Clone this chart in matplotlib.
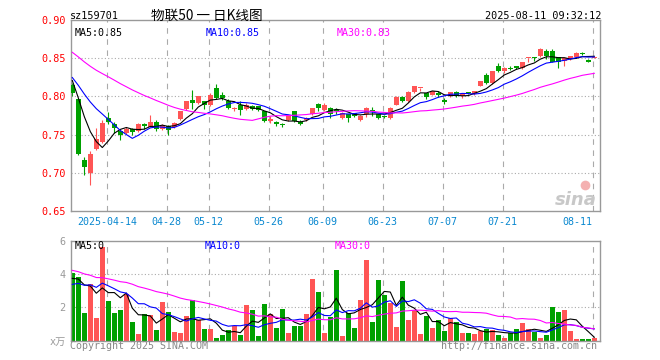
import numpy as np
import pandas as pd
import matplotlib
matplotlib.use("Agg")
import matplotlib.pyplot as plt

# 159701 daily K line, 2025-04-03 .. 2025-08-11 (88 trading days)
holidays = ["2025-04-04", "2025-05-01", "2025-05-02", "2025-05-05", "2025-06-02"]

opens = [0.8149, 0.7965, 0.7167, 0.6996, 0.7307, 0.7404, 0.7715, 0.7645, 0.7544, 0.7518,
         0.7575, 0.7548, 0.7640, 0.7605, 0.7671, 0.7579, 0.7614, 0.7596, 0.7702, 0.7833,
         0.7956, 0.7912, 0.7934, 0.7890, 0.8105, 0.8018, 0.7943, 0.7833, 0.7890, 0.7833,
         0.7877, 0.7868, 0.7803, 0.7675, 0.7671, 0.7632, 0.7693, 0.7803, 0.7671, 0.7689,
         0.7768, 0.7899, 0.7820, 0.7846, 0.7811, 0.7715, 0.7768, 0.7781, 0.7693, 0.7768,
         0.7811, 0.7768, 0.7737, 0.7715, 0.7890, 0.7996, 0.7934, 0.8053, 0.8105, 0.8039,
         0.8022, 0.8039, 0.7952, 0.8000, 0.8053, 0.8000, 0.8053, 0.8031, 0.8140, 0.8285,
         0.8175, 0.8395, 0.8329, 0.8373, 0.8395, 0.8368, 0.8500, 0.8509, 0.8535, 0.8592,
         0.8592, 0.8513, 0.8469, 0.8491, 0.8513, 0.8570, 0.8482, 0.8509]
highs = [0.8170, 0.7970, 0.7206, 0.7285, 0.7583, 0.7689, 0.7798, 0.7662, 0.7575, 0.7605,
         0.7592, 0.7654, 0.7658, 0.7759, 0.7689, 0.7636, 0.7627, 0.7667, 0.7811, 0.7943,
         0.8083, 0.8009, 0.7943, 0.8039, 0.8162, 0.8053, 0.7965, 0.7864, 0.7934, 0.7908,
         0.7886, 0.7877, 0.7811, 0.7737, 0.7680, 0.7658, 0.7754, 0.7811, 0.7689, 0.7728,
         0.7851, 0.7908, 0.7912, 0.7855, 0.7846, 0.7798, 0.7776, 0.7789, 0.7754, 0.7855,
         0.7855, 0.7776, 0.7754, 0.7855, 0.8000, 0.8000, 0.8070, 0.8140, 0.8114, 0.8048,
         0.8075, 0.8075, 0.7974, 0.8061, 0.8066, 0.8039, 0.8061, 0.8075, 0.8206, 0.8303,
         0.8338, 0.8434, 0.8382, 0.8395, 0.8404, 0.8456, 0.8509, 0.8513, 0.8632, 0.8623,
         0.8614, 0.8522, 0.8509, 0.8535, 0.8579, 0.8579, 0.8491, 0.8513]
lows = [0.8010, 0.7232, 0.6969, 0.6846, 0.7298, 0.7395, 0.7636, 0.7526, 0.7430, 0.7504,
        0.7496, 0.7540, 0.7579, 0.7601, 0.7548, 0.7561, 0.7496, 0.7588, 0.7693, 0.7825,
        0.7833, 0.7904, 0.7833, 0.7877, 0.7965, 0.7956, 0.7833, 0.7803, 0.7759, 0.7825,
        0.7825, 0.7811, 0.7667, 0.7658, 0.7614, 0.7605, 0.7684, 0.7667, 0.7627, 0.7675,
        0.7759, 0.7803, 0.7803, 0.7711, 0.7776, 0.7706, 0.7667, 0.7728, 0.7684, 0.7724,
        0.7746, 0.7706, 0.7711, 0.7706, 0.7881, 0.7925, 0.7925, 0.8044, 0.8075, 0.7965,
        0.8013, 0.7996, 0.7899, 0.7991, 0.7987, 0.7978, 0.8026, 0.8022, 0.8132, 0.8162,
        0.8162, 0.8316, 0.8303, 0.8351, 0.8364, 0.8360, 0.8447, 0.8469, 0.8513, 0.8491,
        0.8447, 0.8368, 0.8404, 0.8482, 0.8504, 0.8548, 0.8447, 0.8500]
closes = [0.8039, 0.7241, 0.7075, 0.7241, 0.7447, 0.7649, 0.7671, 0.7583, 0.7491, 0.7570,
          0.7540, 0.7645, 0.7610, 0.7671, 0.7570, 0.7623, 0.7561, 0.7658, 0.7803, 0.7934,
          0.7912, 0.8000, 0.7890, 0.8022, 0.7978, 0.7978, 0.7842, 0.7838, 0.7825, 0.7890,
          0.7833, 0.7825, 0.7680, 0.7702, 0.7636, 0.7623, 0.7746, 0.7680, 0.7645, 0.7715,
          0.7842, 0.7846, 0.7886, 0.7776, 0.7803, 0.7789, 0.7715, 0.7737, 0.7746, 0.7846,
          0.7803, 0.7715, 0.7732, 0.7846, 0.7996, 0.7934, 0.8061, 0.8132, 0.8110, 0.7987,
          0.8066, 0.8022, 0.7921, 0.8053, 0.8009, 0.8031, 0.8039, 0.8066, 0.8197, 0.8175,
          0.8329, 0.8329, 0.8373, 0.8364, 0.8373, 0.8447, 0.8504, 0.8500, 0.8614, 0.8526,
          0.8447, 0.8447, 0.8500, 0.8526, 0.8570, 0.8561, 0.8456, 0.8513]
volumes = [4.04, 3.80, 1.64, 3.40, 1.36, 5.64, 2.38, 1.66, 1.84, 2.78,
           1.10, 0.40, 1.60, 1.54, 0.64, 2.32, 1.72, 0.52, 0.46, 1.48,
           2.44, 1.24, 0.70, 0.70, 0.18, 0.34, 0.64, 0.90, 0.34, 2.14,
           1.84, 0.28, 2.20, 1.58, 0.76, 1.90, 0.46, 0.88, 0.88, 1.60,
           3.70, 2.92, 0.46, 1.44, 4.24, 0.28, 1.64, 0.76, 2.44, 4.84,
           1.12, 3.64, 2.74, 2.26, 0.84, 3.58, 1.24, 1.84, 0.40, 1.48,
           0.78, 1.24, 0.58, 1.36, 1.12, 0.46, 0.46, 0.40, 0.58, 0.70,
           0.64, 0.34, 0.16, 0.46, 0.70, 1.06, 0.70, 0.52, 0.16, 0.34,
           2.02, 1.72, 1.84, 0.58, 0.10, 0.10, 0.10, 0.16]

# earlier sessions (not drawn), only so the moving averages start where the chart shows them
prior_close = [0.905, 0.902, 0.898, 0.900, 0.896, 0.893, 0.890, 0.885, 0.880, 0.878,
               0.875, 0.870, 0.862, 0.858, 0.855, 0.852, 0.850, 0.848, 0.845, 0.842,
               0.826, 0.822, 0.828, 0.832, 0.835, 0.838, 0.830, 0.822, 0.810]
prior_vol = [6.2, 5.6, 5.9, 5.4, 5.9, 4.5, 4.0, 4.6, 4.1, 4.3,
             4.8, 4.2, 4.5, 4.0, 4.5, 4.2, 3.9, 4.1, 4.0, 4.1,
             3.2, 2.8, 3.1, 2.9, 3.1, 4.0, 3.39, 3.75, 3.52]

tick_dates = ["2025-04-14", "2025-04-28", "2025-05-12", "2025-05-26", "2025-06-09",
              "2025-06-23", "2025-07-07", "2025-07-21", "2025-08-11"]
tick_labels = ["2025-04-14", "04-28", "05-12", "05-26", "06-09", "06-23", "07-07", "07-21", "08-11"]

RED = "#ff5555"
GREEN = "#00a000"
GRID = "#aaaaaa"
MONO = ["DejaVu Sans Mono", "Noto Sans CJK SC"]

dates = pd.bdate_range("2025-04-03", "2025-08-11")
dates = dates[~dates.isin(pd.to_datetime(holidays))]
x = np.arange(len(dates))
tick_idx = [int(np.where(dates == pd.Timestamp(d))[0][0]) for d in tick_dates]

o = np.array(opens); h = np.array(highs); l = np.array(lows); c = np.array(closes)
v = np.array(volumes)
col = np.where(c >= o, RED, GREEN)


def ma(prior, vals, n):
    s = pd.Series(list(prior) + list(vals)).rolling(n).mean().to_numpy()
    return s[len(prior):]


W, H = 660, 360
fig = plt.figure(figsize=(6.6, 3.6), dpi=100)
fig.patch.set_facecolor("white")


def px(xp, yp):
    return xp / W, 1 - yp / H


ax = fig.add_axes([71 / W, 1 - 211 / H, 529 / W, 191 / H])
axv = fig.add_axes([71 / W, 1 - 340.7 / H, 529 / W, 100 / H])

for a in (ax, axv):
    a.set_xlim(-0.22, 87.95)
    for s in a.spines.values():
        s.set_color("#999999")
        s.set_linewidth(1.0)
    for t in tick_idx:
        a.axvline(t - 0.25, color=GRID, lw=0.8, ls=(0, (5, 5)), zorder=0)

# price panel
ax.set_ylim(0.65, 0.90)
for y in [0.70, 0.75, 0.80, 0.85]:
    ax.axhline(y, color=GRID, lw=0.8, ls=(0, (1, 2)), zorder=0)
ax.vlines(x, l, h, colors=col, lw=0.8, zorder=2)
ax.bar(x, np.maximum(np.abs(c - o), 0.0013), bottom=np.minimum(o, c), width=0.8,
       color=col, linewidth=0, zorder=3)
ax.plot(x, ma(prior_close, c, 5), color="black", lw=0.8, zorder=4)
ax.plot(x, ma(prior_close, c, 10), color="#0000ff", lw=0.8, zorder=4)
ax.plot(x, ma(prior_close, c, 30), color="#ff00ff", lw=0.8, zorder=4)

ax.set_yticks([0.65, 0.70, 0.75, 0.80, 0.85, 0.90])
ax.set_yticklabels(["0.65", "0.70", "0.75", "0.80", "0.85", "0.90"],
                   color="#ff0000", family=MONO, fontsize=7.3)
ax.set_xticks([t - 0.25 for t in tick_idx])
ax.set_xticklabels(tick_labels, color="#0a88d0", family=MONO, fontsize=7.2)
ax.tick_params(length=0, pad=4)
ax.get_xticklabels()[-1].set_horizontalalignment("right")

# volume panel
axv.set_ylim(0, 6)
for y in [2, 4]:
    axv.axhline(y, color=GRID, lw=0.8, ls=(0, (1, 2)), zorder=0)
axv.bar(x, v, width=0.8, color=col, linewidth=0, zorder=2)
axv.plot(x, ma(prior_vol, v, 5), color="black", lw=0.8, zorder=3)
axv.plot(x, ma(prior_vol, v, 10), color="#0000ff", lw=0.8, zorder=3)
axv.plot(x, ma(prior_vol, v, 30), color="#ff00ff", lw=0.8, zorder=3)
axv.set_yticks([0, 2, 4, 6])
axv.set_yticklabels(["x万", "2", "4", "6"], color="#999999", family=MONO, fontsize=7.3)
axv.set_xticks([])
axv.tick_params(length=0, pad=4)

# header and labels
fig.text(*px(70, 16), "sz159701", family=MONO, fontsize=7.3, va="center", ha="left")
fig.text(*px(151, 16), "物联50 一 日K线图", family=["Noto Sans CJK SC", "DejaVu Sans"],
         fontsize=9.8, va="center", ha="left")
fig.text(*px(601, 16), "2025-08-11 09:32:12", family=MONO, fontsize=7.3, va="center", ha="right")

fig.text(*px(75, 33), "MA5:0.85", family=MONO, fontsize=7.2, va="center", color="black")
fig.text(*px(206, 33), "MA10:0.85", family=MONO, fontsize=7.2, va="center", color="#0000ff")
fig.text(*px(337, 33), "MA30:0.83", family=MONO, fontsize=7.2, va="center", color="#ff00ff")

fig.text(*px(75, 246), "MA5:0", family=MONO, fontsize=7.2, va="center", color="black")
fig.text(*px(205, 246), "MA10:0", family=MONO, fontsize=7.2, va="center", color="#0000ff")
fig.text(*px(335, 246), "MA30:0", family=MONO, fontsize=7.2, va="center", color="#ff00ff")

fig.text(*px(70, 346), "Copyright 2025 SINA.COM", family=MONO, fontsize=7.2,
         va="center", color="#888888")
fig.text(*px(597, 346), "http://finance.sina.com.cn", family=MONO, fontsize=7.2,
         va="center", ha="right", color="#888888")

# sina watermark: grey word with a pink eye above it
fig.text(*px(597, 200), "sina", fontsize=13, fontweight="bold", style="italic",
         color="#c8c8c8", va="center", ha="right")
ax.plot([(585 - 71) / 529], [(211 - 185) / 191], marker="o", ms=7, color="#f4b0b0",
        mec="none", transform=ax.transAxes, zorder=1)

fig.savefig("out.png", dpi=100)
